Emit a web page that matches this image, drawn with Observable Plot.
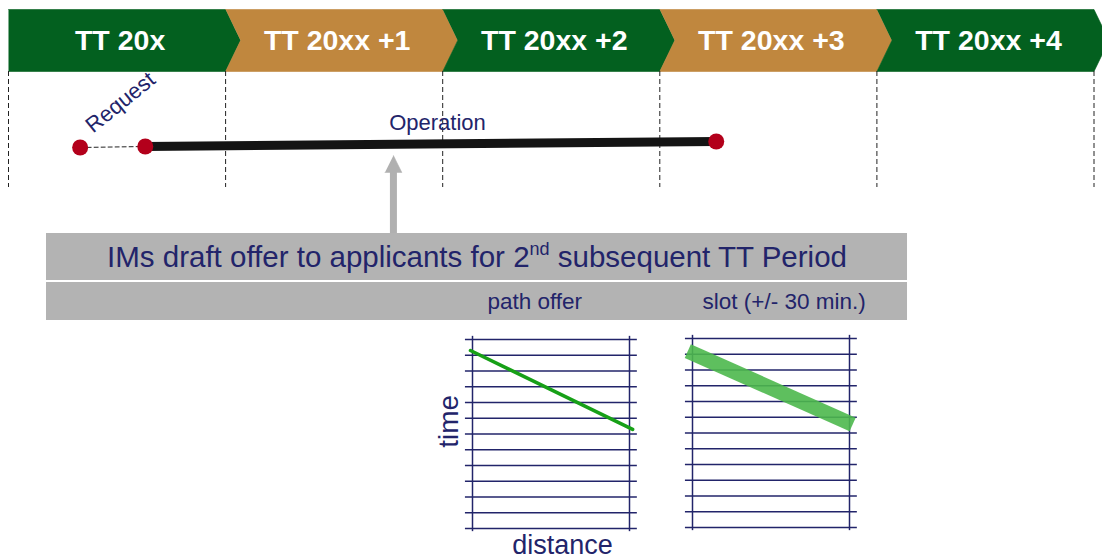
<!DOCTYPE html>
<html><head><meta charset="utf-8">
<script src="https://cdn.jsdelivr.net/npm/d3@7"></script>
<script src="https://cdn.jsdelivr.net/npm/@observablehq/plot@0.6"></script>
<style>
body{margin:0;background:#fff;}
#wrap{position:relative;width:1102px;height:560px;overflow:hidden;font-family:"Liberation Sans",Arial,sans-serif;}
#wrap svg{position:absolute;overflow:visible;}
</style></head><body><div id="wrap"></div>
<script>
// ---- data ----
const periods = ["TT 20x", "TT 20xx +1", "TT 20xx +2", "TT 20xx +3", "TT 20xx +4"];
const periodColors = ["#03601f", "#c0873e", "#03601f", "#c0873e", "#03601f"];
const periodBounds = [0, 1, 2, 3, 4, 5];
const requestAt = 0.33;       // period units
const operationStart = 0.63;
const operationEnd = 3.26;
const arrowAt = 1.773;
const boxTitle = "IMs draft offer to applicants for 2nd subsequent TT Period";
const subLabels = ["path offer", "slot (+/- 30 min.)"];
const subLabelAt = [2.206, 3.197];
const gridTimes = [0, 1, 2, 3, 4, 5, 6, 7, 8, 9, 10, 11, 12];
const gridDistances = [0, 1];
const pathOffer = [{distance: -0.013, time: 0.7}, {distance: 1.02, time: 5.71}];
const slotOffer = [{distance: -0.03, time: 0.8}, {distance: 1.02, time: 5.46}];

// ---- style ----
const NAVY = "#22246a";
const GRAY = "#b3b3b3";
const RED = "#b3001b";
const FONT = "Liberation Sans, Arial, sans-serif";
const L = {top: 9, mid: 40, bot: 71, dashTop: 71, dashBot: 187, tip: 0.069};

const wrap = document.getElementById("wrap");

// chevron polygons built from periods
const chevrons = [];
periods.forEach((p, i) => {
  const b0 = periodBounds[i], b1 = periodBounds[i + 1];
  const pts = [[b0, L.top], [b1, L.top], [b1 + L.tip, L.mid], [b1, L.bot], [b0, L.bot]];
  if (i > 0) pts.push([b0 + L.tip, L.mid]);
  pts.forEach(([x, y]) => chevrons.push({period: p, color: periodColors[i], x, y}));
});

const arrowHalf = 0.039;
const arrowHead = [
  {x: arrowAt, y: 155}, {x: arrowAt + arrowHalf, y: 172}, {x: arrowAt - arrowHalf, y: 172}
];

const main = Plot.plot({
  width: 1102, height: 560, margin: 0,
  x: {domain: [-8 / 217.1, 1094 / 217.1], range: [0, 1102], axis: null},
  y: {domain: [0, 560], range: [0, 560], axis: null},
  style: {fontFamily: FONT, background: "transparent"},
  marks: [
    Plot.line(chevrons, {x: "x", y: "y", z: "period", fill: "color", stroke: "color", strokeWidth: 0.6}),
    Plot.text(periods, {x: (d, i) => i + 0.5 + 0.014, y: L.mid, text: d => d, fill: "white",
      fontSize: 28.5, fontWeight: "bold", fontFamily: FONT}),
    Plot.ruleX(periodBounds, {x: d => d, y1: L.dashTop, y2: L.dashBot, stroke: "#222",
      strokeWidth: 1, strokeDasharray: "5,3"}),
    Plot.line([{x: requestAt, y: 147}, {x: operationStart, y: 146}], {x: "x", y: "y",
      stroke: "#222", strokeWidth: 1, strokeDasharray: "4,3"}),
    Plot.line([{x: operationStart, y: 146}, {x: operationEnd, y: 141}], {x: "x", y: "y",
      stroke: "#141414", strokeWidth: 9}),
    Plot.dot([{x: requestAt, y: 147}, {x: operationStart, y: 146}, {x: operationEnd, y: 141}],
      {x: "x", y: "y", r: 8, fill: RED, stroke: "none"}),
    Plot.text(["Request"], {x: 0.516, y: 102, text: d => d, rotate: -39, fontSize: 22, fill: NAVY}),
    Plot.text(["Operation"], {x: 1.976, y: 122, text: d => d, fontSize: 22, fill: NAVY}),
    Plot.ruleX([arrowAt], {x: d => d, y1: 233, y2: 170, stroke: "#b0b0b0", strokeWidth: 7}),
    Plot.line(arrowHead, {x: "x", y: "y", fill: "#b0b0b0", stroke: "#b0b0b0", strokeWidth: 0.5}),
    Plot.rect([{y1: 233, y2: 280}, {y1: 282, y2: 320}], {x1: 0.175, x2: 4.141, y1: "y1", y2: "y2",
      fill: GRAY}),
    Plot.text([boxTitle], {x: 2.158, y: 257, text: d => d, fontSize: 29.5, fill: NAVY}),
    Plot.text(subLabels, {x: (d, i) => subLabelAt[i], y: 301, text: d => d, fontSize: 22.5,
      fill: NAVY, textAnchor: "start"})
  ]
});
main.style.left = "0px"; main.style.top = "0px";
wrap.appendChild(main);

// superscript "nd"
main.querySelectorAll("text").forEach(t => {
  if (t.textContent === boxTitle) {
    const parts = boxTitle.split("2nd");
    t.textContent = "";
    const ns = "http://www.w3.org/2000/svg";
    const a = document.createElementNS(ns, "tspan"); a.textContent = parts[0] + "2";
    const s = document.createElementNS(ns, "tspan"); s.textContent = "nd";
    s.setAttribute("font-size", "18"); s.setAttribute("dy", "-12");
    const b = document.createElementNS(ns, "tspan"); b.textContent = parts[1];
    b.setAttribute("dy", "12");
    t.append(a, s, b);
  }
});

function smallChart(opts) {
  const p = Plot.plot({
    width: 220, height: 230,
    marginLeft: opts.ml, marginRight: opts.mr, marginTop: opts.mt, marginBottom: opts.mb,
    x: {domain: [0, 1], axis: null},
    y: {domain: [0, 12], reverse: true, axis: null},
    style: {fontFamily: FONT, background: "transparent", overflow: "visible"},
    marks: [
      Plot.ruleY(gridTimes, {y: d => d, x1: -0.045, x2: 1.05, stroke: NAVY, strokeWidth: 1.5}),
      Plot.ruleX(gridDistances, {x: d => d, y1: -0.2, y2: 12.2, stroke: NAVY, strokeWidth: 1.5}),
      ...opts.marks
    ]
  });
  p.style.left = opts.left + "px"; p.style.top = opts.top + "px";
  wrap.appendChild(p);
}

smallChart({
  left: 430, top: 330, ml: 42, mr: 21, mt: 9, mb: 32,
  marks: [
    Plot.line(pathOffer, {x: "distance", y: "time", stroke: "#17a017", strokeWidth: 3.5}),
    Plot.text(["time"], {x: -0.15, y: 5.2, text: d => d, rotate: -90, fontSize: 28, fill: NAVY}),
    Plot.text(["distance"], {x: 0.573, y: 13.1, text: d => d, fontSize: 27, fill: NAVY})
  ]
});

smallChart({
  left: 660, top: 330, ml: 32, mr: 31, mt: 8, mb: 33,
  marks: [
    Plot.line(slotOffer, {x: "distance", y: "time", stroke: "#4cb84c", strokeOpacity: 0.9,
      strokeWidth: 15, strokeLinecap: "butt"})
  ]
});
</script></body></html>
